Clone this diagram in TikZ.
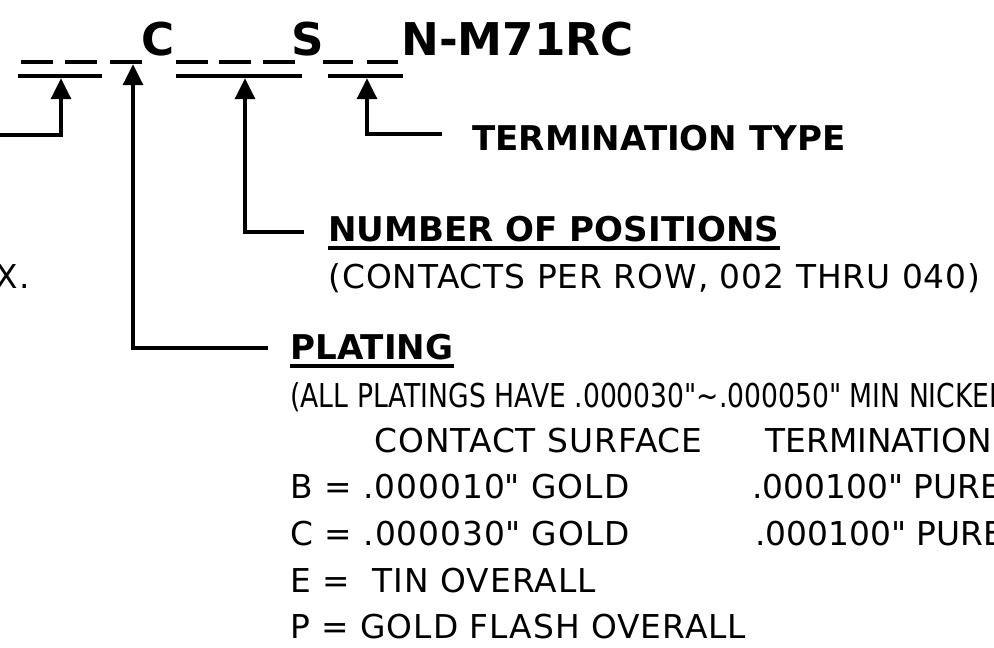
\documentclass[tikz,border=0pt]{standalone}
\usepackage{fontspec}
\setmainfont{DejaVu Sans}
\usetikzlibrary{arrows.meta}

\tikzset{
  ttl/.style={inner sep=0pt, anchor=base west, font=\bfseries\fontsize{25.7}{30}\selectfont},
  hd/.style={inner sep=0pt, anchor=base west, font=\bfseries\fontsize{19.4}{23}\selectfont},
  lbl/.style={inner sep=0pt, anchor=base west, font=\fontsize{18.7}{22}\selectfont\addfontfeature{LetterSpace=3}},
  tip/.style={inner sep=0pt, anchor=base west, font=\fontsize{18.7}{22}\selectfont},
  nrw/.style={inner sep=0pt, anchor=base west, font=\fontsize{18.7}{22}\selectfont},
  lead/.style={line width=2.8pt, ->},
  dsh/.style={line width=2.3pt},
  uln/.style={line width=2.2pt}
}

\begin{document}
\begin{tikzpicture}[x=0.02cm, y=-0.02cm, >={Triangle[length=12pt,width=11pt]}]
  \useasboundingbox (0,0) rectangle (994,647);
  \clip (0,0) rectangle (994,647);
  % part number
  \node[ttl] (cC) at (141,55) {C};
  \node[ttl] (cS) at (291,55) {S};
  \node[ttl] (sfx) at (401,55) {N-M71RC};
  \foreach \a/\b in {21/53, 65/97, 110/142, 176/208, 219/251, 263/295, 323/353, 367/398}
    \draw[dsh] (\a,62) -- (\b,62);
  \draw[uln] (18,76) -- (102,76);
  \draw[uln] (176,76) -- (302,76);
  \draw[uln] (328,76) -- (403,76);
  % labels
  \node[hd] (term) at (472,150) {TERMINATION TYPE};
  \node[hd] (npos) at (328,241) {NUMBER OF POSITIONS};
  \node[lbl] (nrng) at (328,288) {(CONTACTS PER ROW, 002 THRU 040)};
  \node[lbl, anchor=base east] (pfx) at (30,288) {X.};
  \node[hd] (plat) at (290,359) {PLATING};
  \node[nrw] (pnote) at (290,407) {\scalebox{0.81}[1]{(ALL PLATINGS HAVE .000030\textquotedbl\textasciitilde.000050\textquotedbl\ MIN NICKEL}};
  \node[lbl] (csurf) at (374,452) {CONTACT SURFACE};
  \node[tip] (cterm) at (765,452) {TERMINATION};
  \node[lbl] (pB) at (290,498) {B = .000010\textquotedbl\ GOLD};
  \node[tip] (tB) at (752,498) {.000100\textquotedbl\ PURE};
  \node[lbl] (pC) at (290,545) {C = .000030\textquotedbl\ GOLD};
  \node[tip] (tC) at (755,545) {.000100\textquotedbl\ PURE};
  \node[lbl] (pE) at (290,592) {E = \ TIN OVERALL};
  \node[lbl] (pP) at (290,638) {P = GOLD FLASH OVERALL};
  \draw[uln] ([yshift=-4pt]npos.base west) -- ([yshift=-4pt]npos.base east);
  \draw[uln] ([yshift=-4pt]plat.base west) -- ([yshift=-4pt]plat.base east);
  % leaders
  \coordinate (t1) at (61,78);
  \coordinate (t2) at (133,64);
  \coordinate (t3) at (245,78);
  \coordinate (t4) at (367,78);
  \coordinate (e1) at (-5,135);
  \coordinate (e2) at (268,348);
  \coordinate (e3) at (304,232);
  \coordinate (e4) at (442,134);
  \draw[lead] (e1) -| (t1);
  \draw[lead] (e2) -| (t2);
  \draw[lead] (e3) -| (t3);
  \draw[lead] (e4) -| (t4);
\end{tikzpicture}
\end{document}
